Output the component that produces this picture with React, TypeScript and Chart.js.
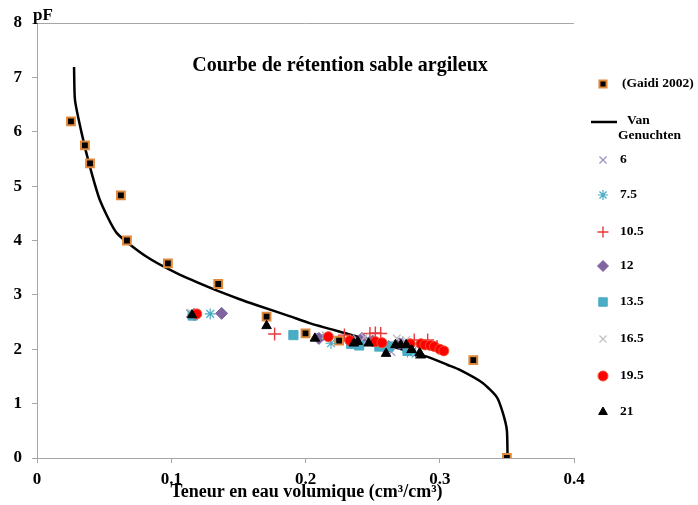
import React, { useEffect, useRef } from 'react';
import { Chart, registerables } from 'chart.js';
import { drawPoint } from 'chart.js/helpers';

Chart.register(...registerables);

// Gaidi 2002 measurements
const gaidiTheta = [0.0253, 0.0357, 0.0395, 0.0625, 0.067, 0.0975, 0.135, 0.171, 0.2, 0.225, 0.325, 0.35];
const gaidiPF = [6.19, 5.75, 5.42, 4.83, 4.0, 3.58, 3.2, 2.6, 2.29, 2.16, 1.8, 0.0];

// Van Genuchten curve
const vgTheta = [0.0276, 0.0283, 0.0333, 0.0395, 0.0469, 0.0593, 0.0817, 0.104, 0.131, 0.151, 0.1638, 0.188, 0.203, 0.2316, 0.263, 0.291, 0.306, 0.315, 0.332, 0.3425, 0.347, 0.35, 0.3505];
const vgPF = [7.19, 6.58, 5.97, 5.35, 4.74, 4.14, 3.7, 3.4, 3.11, 2.92, 2.81, 2.61, 2.48, 2.28, 2.06, 1.86, 1.71, 1.62, 1.38, 1.12, 0.83, 0.51, 0.02];

const s6Theta = [0.114, 0.211, 0.238, 0.245, 0.264, 0.27, 0.275, 0.28];
const s6PF = [2.66, 2.23, 2.2, 2.17, 1.95, 2.15, 2.12, 1.98];

const s75Theta = [0.129, 0.219, 0.24, 0.258, 0.276, 0.282];
const s75PF = [2.65, 2.11, 2.1, 2.04, 1.95, 1.92];

const s105Theta = [0.117, 0.177, 0.229, 0.248, 0.252, 0.256, 0.281, 0.291, 0.298];
const s105PF = [2.64, 2.28, 2.26, 2.29, 2.3, 2.29, 2.17, 2.17, 2.05];

const s12Theta = [0.1375, 0.21, 0.242, 0.25, 0.262, 0.27];
const s12PF = [2.66, 2.2, 2.2, 2.15, 2.05, 2.1];

const s135Theta = [0.116, 0.191, 0.234, 0.24, 0.255, 0.262, 0.276];
const s135PF = [2.62, 2.26, 2.1, 2.07, 2.05, 2.05, 1.97];

const s165Theta = [0.115, 0.215, 0.244, 0.268, 0.275, 0.293];
const s165PF = [2.67, 2.26, 2.22, 2.2, 2.17, 2.08];

const s195Theta = [0.119, 0.217, 0.233, 0.252, 0.257, 0.278, 0.286, 0.289, 0.293, 0.296, 0.3, 0.303];
const s195PF = [2.65, 2.23, 2.16, 2.14, 2.12, 2.1, 2.1, 2.08, 2.07, 2.05, 2.0, 1.97];

const s21Theta = [0.1155, 0.171, 0.207, 0.236, 0.239, 0.247, 0.26, 0.267, 0.271, 0.275, 0.279, 0.285, 0.286];
const s21PF = [2.63, 2.43, 2.2, 2.11, 2.14, 2.11, 1.92, 2.08, 2.08, 2.08, 1.99, 1.93, 1.89];

const xTicksMin = 0;
const xTicksMax = 0.4;
const yTicksMin = 0;
const yTicksMax = 8;

const titleText = 'Courbe de rétention sable argileux';
const xTitle = 'Teneur en eau volumique (cm³/cm³)';
const yTitle = 'pF';

const pts = (xs: number[], ys: number[]) => xs.map((x, i) => ({ x, y: ys[i] }));

const FONT = "'Liberation Serif', 'Times New Roman', serif";

const legendRows = [84, 122, 160, 195, 232, 266, 302, 339, 376, 412];

const decorPlugin = {
  id: 'decor',
  afterDraw(chart: any) {
    const ctx = chart.ctx as CanvasRenderingContext2D;
    const ca = chart.chartArea;
    ctx.save();
    // top border
    ctx.strokeStyle = '#a6a6a6';
    ctx.lineWidth = 1;
    ctx.beginPath();
    ctx.moveTo(ca.left, ca.top + 0.5);
    ctx.lineTo(ca.right, ca.top + 0.5);
    ctx.stroke();

    ctx.fillStyle = '#000';
    // title
    ctx.font = `bold 20px ${FONT}`;
    ctx.textAlign = 'center';
    ctx.textBaseline = 'middle';
    ctx.fillText(titleText, 340, 66);
    // y title
    ctx.font = `bold 17px ${FONT}`;
    ctx.textAlign = 'left';
    ctx.fillText(yTitle, 33, 16);
    // x title
    ctx.font = `bold 18px ${FONT}`;
    ctx.textAlign = 'center';
    ctx.fillText(xTitle, (ca.left + ca.right) / 2 + 1, 492);

    // legend
    ctx.font = `bold 13.5px ${FONT}`;
    ctx.textAlign = 'left';
    chart.data.datasets.forEach((ds: any, i: number) => {
      const y = legendRows[i];
      if (ds.showLine) {
        ctx.strokeStyle = ds.borderColor;
        ctx.lineWidth = 2.5;
        ctx.beginPath();
        ctx.moveTo(591, y);
        ctx.lineTo(617, y);
        ctx.stroke();
        ctx.fillStyle = '#000';
        ctx.fillText('Van', 627, y - 1);
        ctx.fillText('Genuchten', 618, y + 14);
        return;
      }
      ctx.fillStyle = ds.pointBackgroundColor;
      ctx.strokeStyle = ds.pointBorderColor;
      ctx.lineWidth = ds.pointBorderWidth;
      drawPoint(ctx, {
        pointStyle: ds.pointStyle,
        rotation: 0,
        radius: ds.legendRadius,
        borderWidth: ds.pointBorderWidth,
      } as any, 603, y);
      ctx.fillStyle = '#000';
      ctx.fillText(ds.label, i === 0 ? 622 : 620, y);
    });
    ctx.restore();
  },
};

function mk(label: string, xs: number[], ys: number[], style: string, bg: string, border: string, radius: number, bw: number, legendRadius: number) {
  return {
    label,
    data: pts(xs, ys),
    showLine: false,
    pointStyle: style,
    pointBackgroundColor: bg,
    pointBorderColor: border,
    backgroundColor: bg,
    borderColor: border,
    pointRadius: radius,
    pointBorderWidth: bw,
    pointHoverRadius: radius,
    legendRadius,
  };
}

export default function App() {
  const ref = useRef<HTMLCanvasElement>(null);
  useEffect(() => {
    if (!ref.current) return;
    const datasets: any[] = [
      mk('(Gaidi 2002)', gaidiTheta, gaidiPF, 'rect', '#000000', '#e0883a', 5.5, 2, 5),
      {
        label: 'Van Genuchten',
        data: pts(vgTheta, vgPF),
        showLine: true,
        borderColor: '#000000',
        backgroundColor: '#000000',
        borderWidth: 2.5,
        pointRadius: 0,
        tension: 0.2,
      },
      mk('6', s6Theta, s6PF, 'crossRot', '#9a90c6', '#9a90c6', 5.5, 1.2, 5),
      mk('7.5', s75Theta, s75PF, 'star', '#4bacc6', '#4bacc6', 5.5, 1.2, 5),
      mk('10.5', s105Theta, s105PF, 'cross', '#e8393b', '#e8393b', 6.5, 1.4, 5.5),
      mk('12', s12Theta, s12PF, 'rectRot', '#8064a2', '#8064a2', 6, 1, 5.5),
      mk('13.5', s135Theta, s135PF, 'rect', '#4bacc6', '#4bacc6', 6.5, 1, 6),
      mk('16.5', s165Theta, s165PF, 'crossRot', '#c0c0c0', '#c0c0c0', 5.5, 1.2, 5),
      mk('19.5', s195Theta, s195PF, 'circle', '#ff0000', '#f05030', 5, 1, 5),
      mk('21', s21Theta, s21PF, 'triangle', '#000000', '#000000', 5.5, 1, 5),
    ];
    datasets.forEach((d, i) => { d.order = i === 1 ? 100 : 10 - i; });
    const chart = new Chart(ref.current, {
      type: 'scatter',
      data: { datasets },
      options: {
        animation: false,
        responsive: false,
        maintainAspectRatio: false,
        layout: { padding: { top: 23, right: 124, left: 0, bottom: 0 } },
        plugins: {
          legend: { display: false },
          title: { display: false },
          tooltip: { enabled: false },
        },
        scales: {
          x: {
            type: 'linear',
            min: xTicksMin,
            max: xTicksMax,
            afterFit: (s: any) => { s.height = 47; },
            border: { display: true, color: '#a6a6a6', width: 1 },
            grid: { drawOnChartArea: false, drawTicks: true, tickLength: 5, color: '#a6a6a6' },
            ticks: {
              stepSize: 0.1,
              autoSkip: false,
              maxRotation: 0,
              padding: 6,
              color: '#000',
              font: { family: FONT, size: 17, weight: 'bold' },
            },
          },
          y: {
            type: 'linear',
            min: yTicksMin,
            max: yTicksMax,
            afterFit: (s: any) => { s.width = 37; },
            border: { display: true, color: '#a6a6a6', width: 1 },
            grid: { drawOnChartArea: false, drawTicks: true, tickLength: 5, color: '#a6a6a6' },
            ticks: {
              stepSize: 1,
              autoSkip: false,
              padding: 10,
              color: '#000',
              font: { family: FONT, size: 17, weight: 'bold' },
            },
          },
        },
      } as any,
      plugins: [decorPlugin],
    });
    return () => chart.destroy();
  }, []);
  return (
    <div style={{ position: 'absolute', left: 0, top: 0, width: 698, height: 505, background: '#fff' }}>
      <canvas ref={ref} width={698} height={505} style={{ width: 698, height: 505, display: 'block' }} />
    </div>
  );
}
